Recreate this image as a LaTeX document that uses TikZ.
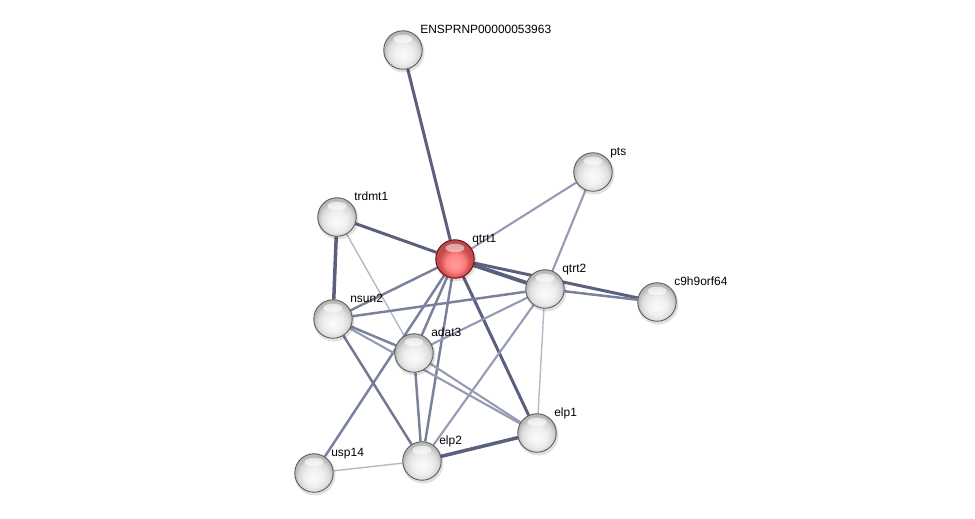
\documentclass[tikz,border=0pt]{standalone}
\usepackage{fontspec}
\setmainfont{Liberation Sans}
\usepackage{xcolor}
\usetikzlibrary{backgrounds}

\definecolor{edgedark}{HTML}{5A607E}
\definecolor{edgemid}{HTML}{7A819C}
\definecolor{edgelight}{HTML}{959BB2}
\definecolor{edgefaint}{HTML}{B4B8C8}

\pgfdeclareradialshading{greysphere}{\pgfpoint{0bp}{-7bp}}{color(0bp)=(gray!3); color(12bp)=(gray!12); color(20bp)=(gray!28); color(25bp)=(gray!55); color(50bp)=(gray!55)}
\pgfdeclareradialshading{redsphere}{\pgfpoint{0bp}{-7bp}}{color(0bp)=(red!38!white); color(12bp)=(red!50!white); color(20bp)=(red!55!gray!90); color(25bp)=(red!60!black!70); color(50bp)=(red!60!black!70)}

\begin{document}
\begin{tikzpicture}[x=0.02cm,y=-0.02cm,
    protein/.style={circle, minimum size=0.77cm, inner sep=0pt, draw=gray!70!black, line width=0.5pt, shading=greysphere},
    query/.style={protein, draw=red!45!black, shading=redsphere},
    plabel/.style={anchor=base west, inner sep=0pt, font=\fontsize{6.8}{8}\selectfont},
    edark/.style={draw=edgedark, line width=1.7pt},
    emid/.style={draw=edgemid, line width=1.4pt},
    elight/.style={draw=edgelight, line width=1.2pt},
    efaint/.style={draw=edgefaint, line width=0.8pt}]
  \useasboundingbox (0,0) rectangle (975,518);

  % proteins
  \foreach \name/\x/\y in {ENSPRNP00000053963/403/50, pts/593/172, trdmt1/337/217,
      qtrt2/545/289, c9h9orf64/657/302, nsun2/333/319, adat3/414/353,
      elp1/537/433, elp2/422/461, usp14/314/473} {
    \fill[black, opacity=0.12] (\x+1,\y+2) circle (0.41cm);
    \node[protein] (\name) at (\x,\y) {};
    \fill[white, opacity=0.6] (\x,\y-11) ellipse (0.19cm and 0.085cm);
    \node[plabel] (\name-lbl) at (\x+17,\y-17) {\name};
  }
  % query protein
  \fill[black, opacity=0.12] (456,261) circle (0.41cm);
  \node[query] (qtrt1) at (455,259) {};
  \fill[white, opacity=0.5] (455,248) ellipse (0.19cm and 0.085cm);
  \node[plabel] (qtrt1-lbl) at (472,242) {qtrt1};

  % interactions
  \begin{scope}[on background layer]
    \draw[edark] (ENSPRNP00000053963) -- (qtrt1);
    \draw[elight] (pts) -- (qtrt1);
    \draw[elight] (pts) -- (qtrt2);
    \draw[edark] (trdmt1) -- (qtrt1);
    \draw[edark, line width=2pt] (trdmt1) -- (nsun2);
    \draw[efaint] (trdmt1) -- (adat3);
    \draw[edark, line width=2.2pt] (qtrt1) -- (qtrt2);
    \draw[edark] (qtrt1) -- (c9h9orf64);
    \draw[emid] (qtrt2) -- (c9h9orf64);
    \draw[emid] (qtrt1) -- (nsun2);
    \draw[emid] (qtrt1) -- (usp14);
    \draw[emid] (qtrt1) -- (adat3);
    \draw[emid] (qtrt1) -- (elp2);
    \draw[edark] (qtrt1) -- (elp1);
    \draw[emid] (nsun2) -- (qtrt2);
    \draw[emid] (nsun2) -- (adat3);
    \draw[elight] (nsun2) -- (elp1);
    \draw[emid, draw=edgedark!85!white] (nsun2) -- (elp2);
    \draw[elight] (adat3) -- (qtrt2);
    \draw[emid] (adat3) -- (elp2);
    \draw[elight] (adat3) -- (elp1);
    \draw[elight] (qtrt2) -- (elp2);
    \draw[efaint] (qtrt2) -- (elp1);
    \draw[edark, line width=2pt] (elp1) -- (elp2);
    \draw[efaint] (usp14) -- (elp2);
  \end{scope}
\end{tikzpicture}
\end{document}
